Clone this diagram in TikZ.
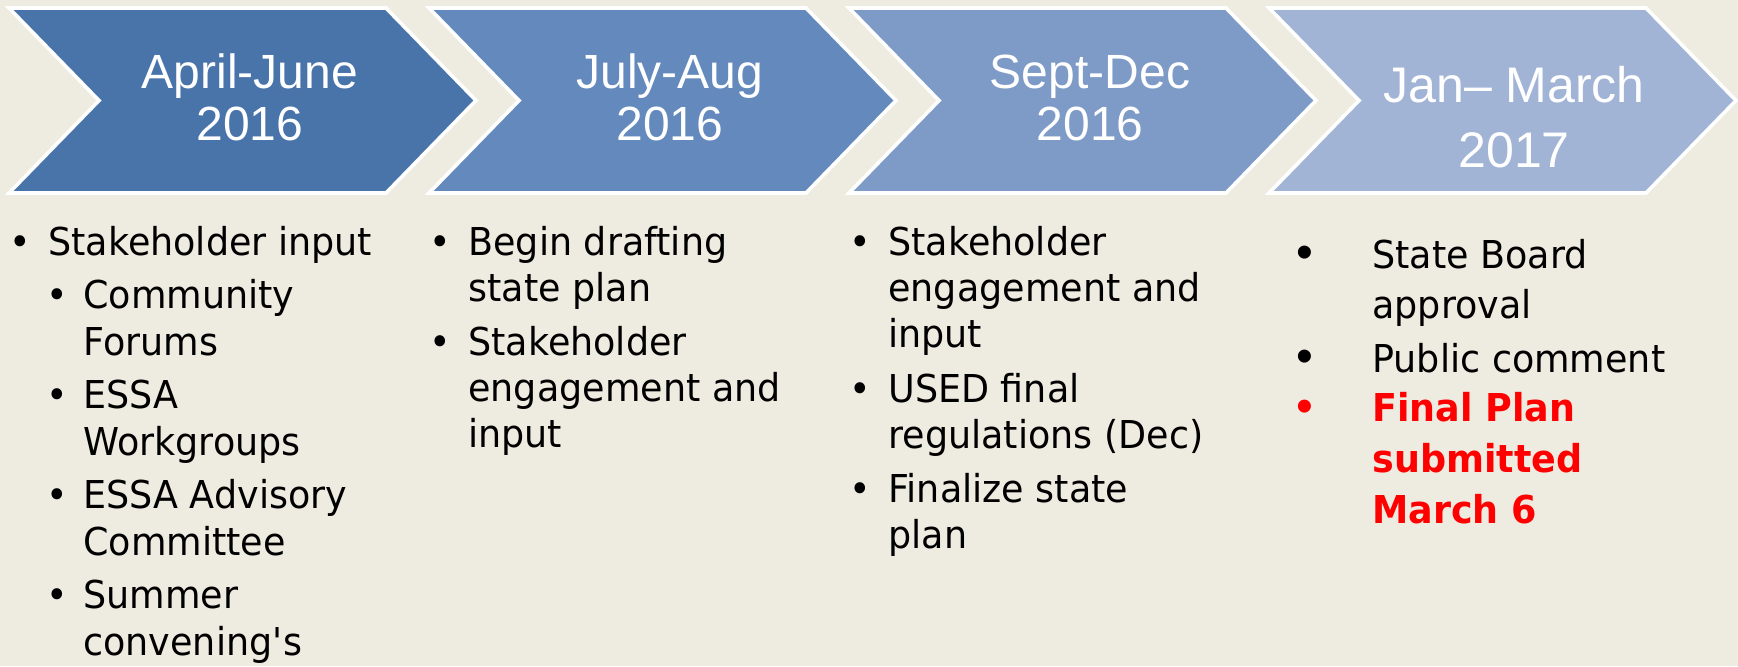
\documentclass[tikz,border=0pt]{standalone}
\usepackage{fontspec}
\setmainfont{DejaVu Sans}[FakeStretch=0.95]
\newfontfamily\headfont{Liberation Sans}
\usetikzlibrary{positioning}
\definecolor{bgtan}{RGB}{238,236,225}
\definecolor{chevA}{RGB}{72,116,170}
\definecolor{chevB}{RGB}{99,137,189}
\definecolor{chevC}{RGB}{126,155,200}
\definecolor{chevD}{RGB}{161,180,213}
\definecolor{planred}{RGB}{255,0,0}

\begin{document}
\begin{tikzpicture}[x=0.5pt, y=-0.5pt,
    chev/.style={draw=white, line width=1.8pt, line join=miter},
    head/.style={text=white, anchor=base, inner sep=0pt, align=center,
                 font=\headfont\fontsize{24}{26}\selectfont},
    item/.style={anchor=base west, inner sep=0pt, align=left,
                 font=\fontsize{19.2}{23.5}\selectfont},
    dot/.style={anchor=base, inner sep=0pt, font=\fontsize{19.2}{23.5}\selectfont}]

    % Background
    \fill[bgtan] (0,0) rectangle (1738,666);
    \useasboundingbox (0,0) rectangle (1738,666);

    % Chevrons
    \foreach \k/\c in {0/chevA,1/chevB,2/chevC,3/chevD} {
        \pgfmathsetmacro{\L}{9+420*\k}
        \filldraw[chev, fill=\c] (\L,8) -- (\L+377,8) -- (\L+467,100.5)
            -- (\L+377,193) -- (\L,193) -- (\L+90,100.5) -- cycle;
    }

    % base of a two-line node = baseline of its last line
    \node[head] (hd1) at (250,140) {April-June\\2016};
    \node[head] (hd2) at (670,140) {July-Aug\\2016};
    \node[head] (hd3) at (1090,140) {Sept-Dec\\2016};
    \node[head, font=\headfont\fontsize{25}{32.5}\selectfont] (hd4) at (1514,167) {Jan– March\\2017};

    % Column 1
    \node[dot] at (20,255) {•};
    \node[item] (a1) at (48,255) {Stakeholder input};
    \foreach \y/\t [count=\i] in {308/{Community\\Forums}, 408/{ESSA\\Workgroups},
                                  508/{ESSA Advisory\\Committee}, 608/{Summer\\convening\textquotesingle s}} {
        \node[dot] at (57,\y) {•};
        \node[item] (a\i sub) at (83,\y+47) {\t};
    }

    % Column 2
    \node[dot] at (440,255) {•};
    \node[item, font=\fontsize{19.2}{23}\selectfont] (b1) at (468,301) {Begin drafting\\state plan};
    \node[dot] at (440,355) {•};
    \node[item, font=\fontsize{19.2}{23}\selectfont] (b2) at (468,447) {Stakeholder\\engagement and\\input};

    % Column 3
    \node[dot] at (860,255) {•};
    \node[item, font=\fontsize{19.2}{23}\selectfont] (c1) at (888,347) {Stakeholder\\engagement and\\input};
    \node[dot] at (860,402) {•};
    \node[item, font=\fontsize{19.2}{23}\selectfont] (c2) at (888,448) {USED final\\regulations (Dec)};
    \node[dot] at (860,502) {•};
    \node[item, font=\fontsize{19.2}{23}\selectfont] (c3) at (888,548) {Finalize state\\plan};

    % Column 4
    \node[dot, font=\headfont\fontsize{24}{25}\selectfont] at (1305,268) {•};
    \node[item, font=\fontsize{19.2}{25}\selectfont] (d1) at (1372,318) {State Board\\approval};
    \node[dot, font=\headfont\fontsize{24}{25}\selectfont] at (1305,372) {•};
    \node[item] (d2) at (1372,372) {Public comment};
    \node[dot, text=planred, font=\headfont\fontsize{24}{25}\selectfont] at (1305,422) {•};
    \node[item, text=planred, font=\bfseries\fontsize{19.2}{25.3}\selectfont] (d3) at (1372,523) {Final Plan\\submitted\\March 6};
\end{tikzpicture}
\end{document}
